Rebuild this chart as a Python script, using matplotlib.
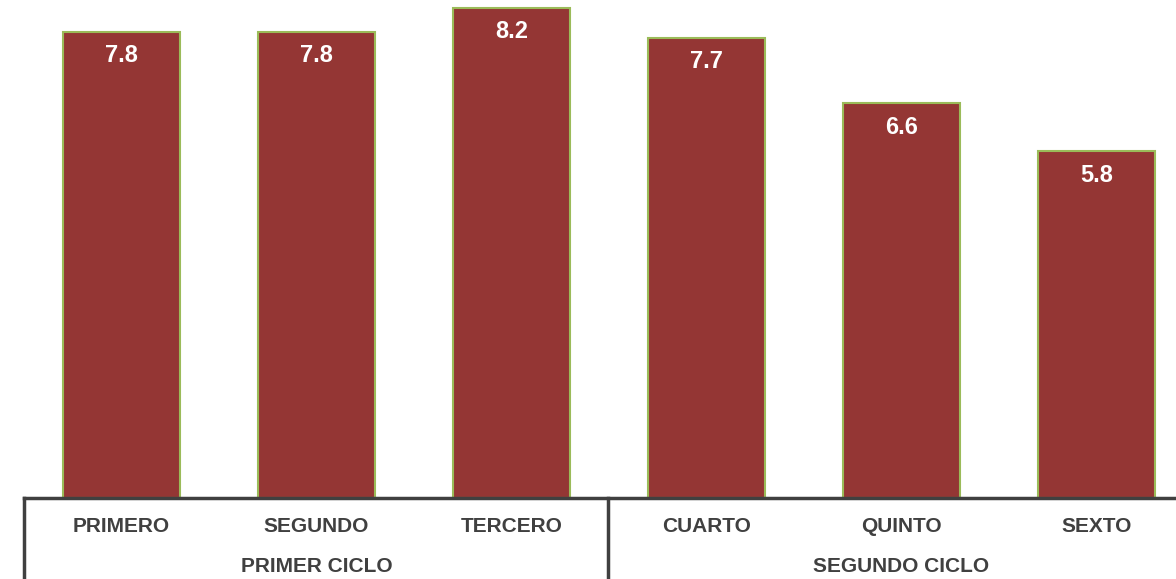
import matplotlib.pyplot as plt
from matplotlib.lines import Line2D

grados = ['PRIMERO', 'SEGUNDO', 'TERCERO', 'CUARTO', 'QUINTO', 'SEXTO']
valores = [7.8, 7.8, 8.2, 7.7, 6.6, 5.8]
ciclos = ['PRIMER CICLO', 'SEGUNDO CICLO']

plt.rcParams['font.family'] = ['Liberation Sans', 'DejaVu Sans']

fig = plt.figure(figsize=(11.76, 5.79), dpi=100)
W, H = 1176, 579
# axes extends past right edge (the original is cropped there)
ax = fig.add_axes([24 / W, 81 / H, 1170 / W, 498 / H])

x = list(range(len(grados)))
bars = ax.bar(x, valores, width=0.6, color='#943634', edgecolor='#9BBB59', linewidth=1.5)
ax.set_xlim(-0.5, len(grados) - 0.5)
ax.set_ylim(0, 8.33)

for b, v in zip(bars, valores):
    ax.annotate(f'{v:.1f}', (b.get_x() + b.get_width() / 2, v), xytext=(0, -24),
                textcoords='offset pixels', ha='center', va='center',
                color='white', fontsize=17, fontweight='bold')

for s in ax.spines.values():
    s.set_visible(False)
ax.set_xticks([])
ax.set_yticks([])

col = '#404040'
# axis line and group separators
fig.add_artist(Line2D([24 / W, 1], [81 / H, 81 / H], color=col, lw=2.5))
for xp in [24, 608]:
    fig.add_artist(Line2D([xp / W, xp / W], [0, 81 / H], color=col, lw=2.5))

for i, g in enumerate(grados):
    ax.annotate(g, (i, 0), xytext=(0, -28), textcoords='offset pixels',
                ha='center', va='center', fontsize=15, fontweight='bold',
                color=col, annotation_clip=False)

for j, c in enumerate(ciclos):
    ax.annotate(c, (1 + 3 * j, 0), xytext=(0, -68), textcoords='offset pixels',
                ha='center', va='center', fontsize=15, fontweight='bold',
                color=col, annotation_clip=False)

fig.savefig('out.png', dpi=100)
